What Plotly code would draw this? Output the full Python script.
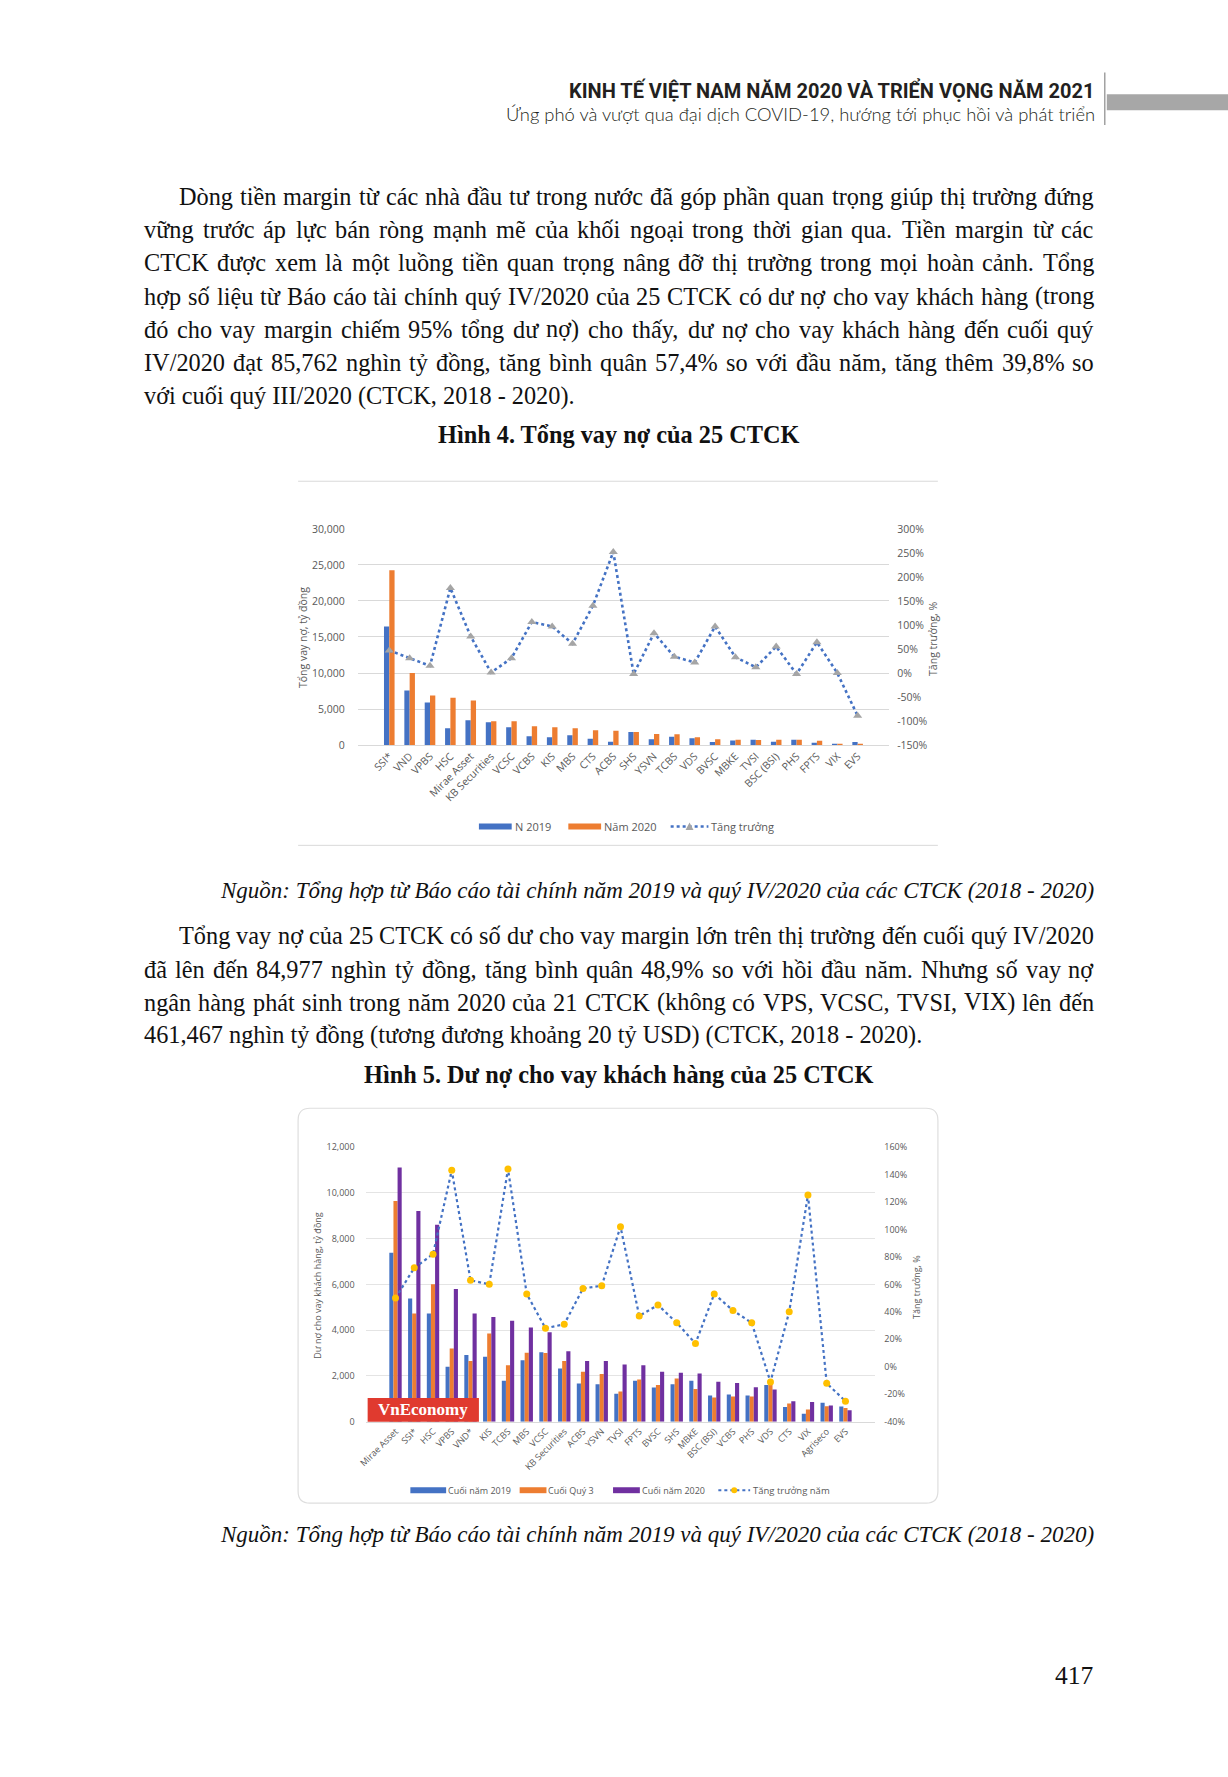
import unicodedata
import plotly.graph_objects as go

W, H = 1228, 1777


def X(p):
    return p / W


def Y(p):
    return 1 - p / H


# ---------------- Chart 1 data (Hình 4) ----------------
c1_categories = ["SSI*", "VND", "VPBS", "HSC", "Mirae Asset", "KB Securities", "VCSC", "VCBS",
                 "KIS", "MBS", "CTS", "ACBS", "SHS", "YSVN", "TCBS", "VDS", "BVSC", "MBKE",
                 "TVSI", "BSC (BSI)", "PHS", "FPTS", "VIX", "EVS"]
c1_n2019 = [16450, 7580, 5930, 2340, 3450, 3170, 2480, 1240, 1100, 1380, 870, 460,
            1840, 830, 1150, 970, 420, 650, 740, 460, 740, 320, 140, 420]
c1_n2020 = [24250, 10000, 6900, 6570, 6200, 3300, 3300, 2620, 2480, 2340, 2070, 1980,
            1840, 1530, 1500, 1100, 830, 740, 720, 740, 740, 600, 140, 50]
c1_growth = [47, 31, 15, 177, 76, 1, 31, 106, 97, 61, 140, 252,
             -2, 83, 34, 22, 97, 33, 12, 55, -2, 64, 0, -89]
c1_left_ticks = [0, 5000, 10000, 15000, 20000, 25000, 30000]
c1_left_labels = ["0", "5,000", "10,000", "15,000", "20,000", "25,000", "30,000"]
c1_right_ticks = [-150, -100, -50, 0, 50, 100, 150, 200, 250, 300]
c1_right_labels = ["-150%", "-100%", "-50%", "0%", "50%", "100%", "150%", "200%", "250%", "300%"]

# ---------------- Chart 2 data (Hình 5) ----------------
c2_categories = ["Mirae Asset", "SSI*", "HSC", "VPBS", "VND*", "KIS", "TCBS", "MBS", "VCSC",
                 "KB Securities", "ACBS", "YSVN", "TVSI", "FPTS", "BVSC", "SHS", "MBKE",
                 "BSC (BSI)", "VCBS", "PHS", "VDS", "CTS", "VIX", "Agriseco", "EVS"]
c2_end2019 = [7380, 5380, 4730, 2400, 2910, 2840, 1790, 2690, 3040, 2330, 1670, 1640, 1220,
              1790, 1500, 1640, 1790, 1150, 1190, 1150, 1610, 640, 350, 830, 670]
c2_q3 = [9640, 4730, 6000, 3200, 2650, 3850, 2470, 3010, 3000, 2650, 2180, 2090, 1320,
         1850, 1610, 1890, 1430, 1060, 1100, 1100, 1750, 800, 540, 680, 600]
c2_end2020 = [11100, 9200, 8600, 5800, 4730, 4580, 4410, 4120, 3910, 3080, 2650, 2650, 2500,
              2470, 2180, 2140, 2110, 1750, 1690, 1510, 1410, 900, 860, 710, 500]
c2_growth = [50, 72, 82, 143, 63, 60, 144, 53, 28, 31, 57, 59, 102, 37, 45, 32, 17, 53, 41,
             32, -11, 40, 125, -12, -25]
c2_left_ticks = [0, 2000, 4000, 6000, 8000, 10000, 12000]
c2_left_labels = ["0", "2,000", "4,000", "6,000", "8,000", "10,000", "12,000"]
c2_right_ticks = [-40, -20, 0, 20, 40, 60, 80, 100, 120, 140, 160]
c2_right_labels = ["-40%", "-20%", "0%", "20%", "40%", "60%", "80%", "100%", "120%", "140%", "160%"]

# ---------------- page text ----------------
header_title = "KINH TẾ VIỆT NAM NĂM 2020 VÀ TRIỂN VỌNG NĂM 2021"
header_sub = "Ứng phó và vượt qua đại dịch COVID-19, hướng tới phục hồi và phát triển"
p1_lines = [
    "Dòng tiền margin từ các nhà đầu tư trong nước đã góp phần quan trọng giúp thị trường đứng",
    "vững trước áp lực bán ròng mạnh mẽ của khối ngoại trong thời gian qua. Tiền margin từ các",
    "CTCK được xem là một luồng tiền quan trọng nâng đỡ thị trường trong mọi hoàn cảnh. Tổng",
    "hợp số liệu từ Báo cáo tài chính quý IV/2020 của 25 CTCK có dư nợ cho vay khách hàng (trong",
    "đó cho vay margin chiếm 95% tổng dư nợ) cho thấy, dư nợ cho vay khách hàng đến cuối quý",
    "IV/2020 đạt 85,762 nghìn tỷ đồng, tăng bình quân 57,4% so với đầu năm, tăng thêm 39,8% so",
    "với cuối quý III/2020 (CTCK, 2018 - 2020).",
]
p2_lines = [
    "Tổng vay nợ của 25 CTCK có số dư cho vay margin lớn trên thị trường đến cuối quý IV/2020",
    "đã lên đến 84,977 nghìn tỷ đồng, tăng bình quân 48,9% so với hồi đầu năm. Nhưng số vay nợ",
    "ngân hàng phát sinh trong năm 2020 của 21 CTCK (không có VPS, VCSC, TVSI, VIX) lên đến",
    "461,467 nghìn tỷ đồng (tương đương khoảng 20 tỷ USD) (CTCK, 2018 - 2020).",
]
caption1 = "Hình 4. Tổng vay nợ của 25 CTCK"
caption2 = "Hình 5. Dư nợ cho vay khách hàng của 25 CTCK"
source_text = "Nguồn: Tổng hợp từ Báo cáo tài chính năm 2019 và quý IV/2020 của các CTCK (2018 - 2020)"
page_number = "417"

# ---------------- styles ----------------
BLUE = "#4472C4"
ORANGE = "#ED7D31"
PURPLE = "#7030A0"
TRI = "#A5A5A5"
GOLD = "#FFC000"
TICK = "#595959"
GRID = "#d9d9d9"
SERIF = "Liberation Serif, Times New Roman, serif"
CHART_FONT = "Open Sans, Noto Sans, Arial, sans-serif"
BODY = 24.3
TEXT_L, TEXT_R, INDENT = 137, 1093, 172

TIMES = {' ': 250, '!': 333, '%': 833, '(': 333, ')': 333, '*': 500, ',': 250, '-': 333,
         '.': 250, '/': 278, ':': 278, ';': 278, '?': 444,
         'A': 722, 'B': 667, 'C': 667, 'D': 722, 'E': 611, 'F': 556, 'G': 722, 'H': 722,
         'I': 333, 'J': 389, 'K': 722, 'L': 611, 'M': 889, 'N': 722, 'O': 722, 'P': 556,
         'Q': 722, 'R': 667, 'S': 556, 'T': 611, 'U': 722, 'V': 722, 'W': 944, 'X': 722,
         'Y': 722, 'Z': 611,
         'a': 444, 'b': 500, 'c': 444, 'd': 500, 'e': 444, 'f': 333, 'g': 500, 'h': 500,
         'i': 278, 'j': 278, 'k': 500, 'l': 278, 'm': 778, 'n': 500, 'o': 500, 'p': 500,
         'q': 500, 'r': 333, 's': 389, 't': 278, 'u': 500, 'v': 500, 'w': 722, 'x': 500,
         'y': 500, 'z': 444, 'đ': 500, 'Đ': 722}
for _d in "0123456789":
    TIMES[_d] = 500


def tw(s, size):
    w = 0
    for ch in s:
        d = unicodedata.normalize("NFD", ch)
        w += TIMES.get(d[0], 500)
        if "\u031b" in d:
            w += 40
    return w * size / 1000.0


annotations = []
shapes = []


def txt(x, y, s, size, family=SERIF, color="#111", xanchor="left", angle=0, weight="normal",
        style="normal"):
    annotations.append(dict(
        x=X(x), y=Y(y), xref="paper", yref="paper", text=s, showarrow=False,
        xanchor=xanchor, yanchor="middle", textangle=angle, borderpad=0, borderwidth=0,
        font=dict(family=family, size=size, color=color, weight=weight, style=style)))


def justified(line, y, x0, x1, size):
    words = line.split(" ")
    widths = [tw(w, size) for w in words]
    gap = (x1 - x0 - sum(widths)) / (len(words) - 1)
    cur = x0
    for i, w in enumerate(words):
        if i == len(words) - 1:
            txt(x1, y, w, size, xanchor="right")
        else:
            txt(cur, y, w, size)
        cur += widths[i] + gap


# header
txt(1094, 84, header_title, 20, family="Roboto, Liberation Sans, Arial, sans-serif",
    color="#231f20", xanchor="right", weight="bold")
txt(1094, 108, header_sub, 18.4, family="Lato, Open Sans, sans-serif", color="#231f20", xanchor="right",
    weight=300)
shapes.append(dict(type="line", xref="paper", yref="paper", x0=X(1104), x1=X(1104), y0=Y(66), y1=Y(119),
                   line=dict(color="#8a8a8a", width=1.2)))
shapes.append(dict(type="rect", xref="paper", yref="paper", x0=X(1106), x1=X(1228), y0=Y(104), y1=Y(88),
                   fillcolor="#a7a7a7", line=dict(width=0)))

# paragraph 1
p1_y = [191, 224.5, 258, 291.5, 325, 358.5, 392]
for i, (line, y) in enumerate(zip(p1_lines, p1_y)):
    x0 = INDENT if i == 0 else TEXT_L
    if i < len(p1_lines) - 1:
        justified(line, y, x0, TEXT_R, BODY)
    else:
        txt(x0, y, line, BODY)
txt(615, 431, caption1, BODY, xanchor="center", weight="bold")

# paragraph 2
p2_y = [936, 970, 1003, 1036]
for i, (line, y) in enumerate(zip(p2_lines, p2_y)):
    x0 = INDENT if i == 0 else TEXT_L
    if i < len(p2_lines) - 1:
        justified(line, y, x0, TEXT_R, BODY)
    else:
        txt(x0, y, line, BODY)
txt(615, 1076, caption2, BODY, xanchor="center", weight="bold")

# sources and page number
txt(TEXT_R, 891, source_text, 23, xanchor="right", style="italic")
txt(TEXT_R, 1540, source_text, 23, xanchor="right", style="italic")
txt(TEXT_R, 1682, page_number, 25.5, xanchor="right")

# ---------------- chart frames ----------------
shapes.append(dict(type="line", xref="paper", yref="paper", x0=X(292), x1=X(936), y0=Y(478), y1=Y(478),
                   line=dict(color=GRID, width=1), layer="below"))
shapes.append(dict(type="line", xref="paper", yref="paper", x0=X(292), x1=X(936), y0=Y(845), y1=Y(845),
                   line=dict(color=GRID, width=1), layer="below"))

bx0, by0, bx1, by1, r = 292, 1110, 936, 1508, 12
path = (f"M{X(bx0 + r)},{Y(by0)} L{X(bx1 - r)},{Y(by0)} Q{X(bx1)},{Y(by0)} {X(bx1)},{Y(by0 + r)} "
        f"L{X(bx1)},{Y(by1 - r)} Q{X(bx1)},{Y(by1)} {X(bx1 - r)},{Y(by1)} "
        f"L{X(bx0 + r)},{Y(by1)} Q{X(bx0)},{Y(by1)} {X(bx0)},{Y(by1 - r)} "
        f"L{X(bx0)},{Y(by0 + r)} Q{X(bx0)},{Y(by0)} {X(bx0 + r)},{Y(by0)} Z")
shapes.append(dict(type="path", xref="paper", yref="paper", path=path, line=dict(color="#dedede", width=1.2),
                   fillcolor="white", layer="below"))

# ---------------- traces ----------------
fig = go.Figure()
fig.add_trace(go.Bar(x=c1_categories, y=c1_n2019, xaxis="x", yaxis="y", marker=dict(color=BLUE, line_width=0),
                     width=0.26, offset=-0.26, name="N 2019"))
fig.add_trace(go.Bar(x=c1_categories, y=c1_n2020, xaxis="x", yaxis="y", marker=dict(color=ORANGE, line_width=0),
                     width=0.26, offset=0.0, name="Năm 2020"))
fig.add_trace(go.Scatter(x=c1_categories, y=c1_growth, xaxis="x", yaxis="y2", mode="lines+markers",
                         line=dict(color=BLUE, dash="dot", width=2.6),
                         marker=dict(symbol="triangle-up", size=8, color=TRI), name="Tăng trưởng"))

fig.add_trace(go.Bar(x=c2_categories, y=c2_end2019, xaxis="x2", yaxis="y3", marker=dict(color=BLUE, line_width=0),
                     width=0.22, offset=-0.33, name="Cuối năm 2019"))
fig.add_trace(go.Bar(x=c2_categories, y=c2_q3, xaxis="x2", yaxis="y3", marker=dict(color=ORANGE, line_width=0),
                     width=0.22, offset=-0.11, name="Cuối Quý 3"))
fig.add_trace(go.Bar(x=c2_categories, y=c2_end2020, xaxis="x2", yaxis="y3", marker=dict(color=PURPLE, line_width=0),
                     width=0.22, offset=0.11, name="Cuối năm 2020"))
fig.add_trace(go.Scatter(x=c2_categories, y=c2_growth, xaxis="x2", yaxis="y4", mode="lines+markers",
                         line=dict(color=BLUE, dash="dot", width=2.2),
                         marker=dict(symbol="circle", size=7, color=GOLD), name="Tăng trưởng năm"))

# ---------------- axis titles ----------------
txt(297, 636, "Tổng vay nợ, tỷ đồng", 10.5, family=CHART_FONT, color=TICK, xanchor="center", angle=-90)
txt(931, 637, "Tăng trưởng, %", 10.5, family=CHART_FONT, color=TICK, xanchor="center", angle=-90)
txt(312, 1288, "Dư nợ cho vay khách hàng, tỷ đồng", 9, family=CHART_FONT, color=TICK, xanchor="center", angle=-90)
txt(915, 1290, "Tăng trưởng, %", 9, family=CHART_FONT, color=TICK, xanchor="center", angle=-90)

# ---------------- manual legends ----------------
def leg_rect(x0, x1, y, color):
    shapes.append(dict(type="rect", xref="paper", yref="paper", x0=X(x0), x1=X(x1), y0=Y(y + 3), y1=Y(y - 3),
                       fillcolor=color, line=dict(width=0)))


def leg_line(x0, x1, y, width):
    shapes.append(dict(type="line", xref="paper", yref="paper", x0=X(x0), x1=X(x1), y0=Y(y), y1=Y(y),
                       line=dict(color=BLUE, width=width, dash="dot")))


# legend 1
L1Y = 826
leg_rect(474, 507, L1Y, BLUE)
txt(510, L1Y, "N 2019", 11, family=CHART_FONT, color=TICK)
leg_rect(564, 597, L1Y, ORANGE)
txt(600, L1Y, "Năm 2020", 11, family=CHART_FONT, color=TICK)
leg_line(667, 705, L1Y, 2.4)
shapes.append(dict(type="path", xref="paper", yref="paper",
                   path=f"M{X(682)},{Y(L1Y + 3.5)} L{X(690)},{Y(L1Y + 3.5)} L{X(686)},{Y(L1Y - 4)} Z",
                   fillcolor=TRI, line=dict(width=0)))
txt(708, L1Y, "Tăng trưởng", 11, family=CHART_FONT, color=TICK)

# legend 2
L2Y = 1495
leg_rect(405, 441, L2Y, BLUE)
txt(443, L2Y, "Cuối năm 2019", 9, family=CHART_FONT, color=TICK)
leg_rect(515, 542, L2Y, ORANGE)
txt(544, L2Y, "Cuối Quý 3", 9, family=CHART_FONT, color=TICK)
leg_rect(609, 636, L2Y, PURPLE)
txt(638, L2Y, "Cuối năm 2020", 9, family=CHART_FONT, color=TICK)
leg_line(715, 747, L2Y, 2)
shapes.append(dict(type="circle", xref="paper", yref="paper", x0=X(728), x1=X(734), y0=Y(L2Y + 3), y1=Y(L2Y - 3),
                   fillcolor=GOLD, line=dict(width=0)))
txt(750, L2Y, "Tăng trưởng năm", 9.5, family=CHART_FONT, color=TICK)

# VnEconomy badge
shapes.append(dict(type="rect", xref="paper", yref="paper", x0=X(362), x1=X(474), y0=Y(1426), y1=Y(1402),
                   fillcolor="#e03a2f", line=dict(width=0), layer="above"))
annotations.append(dict(x=X(418), y=Y(1414), xref="paper", yref="paper", text="VnEconomy", showarrow=False,
                        xanchor="center", yanchor="middle",
                        font=dict(family=SERIF, size=17, color="white", weight="bold")))

# ---------------- layout ----------------
axis_font1 = dict(family=CHART_FONT, size=10.5, color=TICK)
axis_font2 = dict(family=CHART_FONT, size=9, color=TICK)

fig.update_layout(
    width=W, height=H, margin=dict(l=0, r=0, t=0, b=0, pad=0),
    paper_bgcolor="white", plot_bgcolor="rgba(0,0,0,0)",
    showlegend=False, barmode="overlay",
    xaxis=dict(domain=[X(352), X(887)], anchor="y", type="category", tickangle=-45, tickfont=axis_font1,
               showgrid=False, showline=True, linecolor=GRID, linewidth=1, ticks="", zeroline=False,
               fixedrange=True),
    yaxis=dict(domain=[Y(744), Y(526)], range=[0, 30000], tickvals=c1_left_ticks, ticktext=c1_left_labels,
               tickfont=axis_font1, showgrid=True, gridcolor=GRID, gridwidth=1, zeroline=False,
               showline=False, ticks="", ticklabelstandoff=12, anchor="x"),
    yaxis2=dict(overlaying="y", side="right", range=[-150, 300], tickvals=c1_right_ticks,
                ticktext=c1_right_labels, tickfont=axis_font1, showgrid=False, zeroline=False,
                showline=False, ticks="", ticklabelstandoff=7, anchor="x"),
    xaxis2=dict(domain=[X(360), X(873)], anchor="y3", type="category", tickangle=-45, tickfont=axis_font2,
                showgrid=False, showline=True, linecolor=GRID, linewidth=1, ticks="", zeroline=False),
    yaxis3=dict(domain=[Y(1426), Y(1149)], range=[0, 12000], tickvals=c2_left_ticks, ticktext=c2_left_labels,
                tickfont=axis_font2, showgrid=True, gridcolor="#e4e4e4", gridwidth=1, zeroline=False,
                showline=False, ticks="", ticklabelstandoff=10, anchor="x2"),
    yaxis4=dict(overlaying="y3", side="right", range=[-40, 160], tickvals=c2_right_ticks,
                ticktext=c2_right_labels, tickfont=axis_font2, showgrid=False, zeroline=False,
                showline=False, ticks="", ticklabelstandoff=8, anchor="x2"),
    annotations=annotations, shapes=shapes,
)

fig.write_html("out.html", config={"displayModeBar": False},
               post_script="document.body.style.margin='0';document.body.style.overflow='hidden';")
